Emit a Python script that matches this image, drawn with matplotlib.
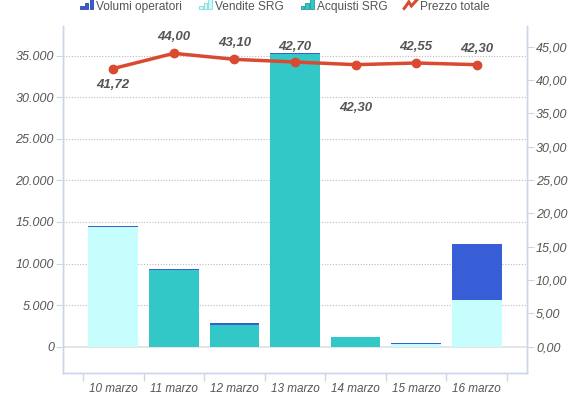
import numpy as np
import matplotlib
matplotlib.use('Agg')
import matplotlib.pyplot as plt
import matplotlib.patches as mpatches
import matplotlib.lines as mlines
from matplotlib.legend_handler import HandlerBase
from matplotlib.ticker import FuncFormatter, FixedLocator

plt.rcParams['font.family'] = ['Liberation Sans', 'DejaVu Sans']

# Data
giorni   = ['10 marzo', '11 marzo', '12 marzo', '13 marzo',
            '14 marzo', '15 marzo', '16 marzo']
vendite  = [14350, 0, 0, 0, 0, 270, 5600]
acquisti = [0, 9250, 2650, 35200, 1130, 0, 0]
volumi   = [200, 100, 150, 80, 70, 170, 6800]
prezzo   = [41.72, 44.00, 43.10, 42.70, 42.30, 42.55, 42.30]
# label offset in pixels (positive = above)
offs     = [-16, 16, 16, 15, -43, 16, 16]

c_vol  = '#375ed6'
c_vend = '#c6fdfd'
c_acq  = '#33c8c8'
c_line = '#d94a30'
c_text = '#555555'
c_axis = '#ccd6eb'


class BarIcon(HandlerBase):
    def __init__(self, color, edge):
        super().__init__()
        self.color = color
        self.edge = edge

    def create_artists(self, legend, orig, xd, yd, w, h, fs, trans):
        arts = []
        bw = w / 3.6
        for i, frac in enumerate([0.35, 0.65, 1.0]):
            r = mpatches.Rectangle((xd + i * bw * 1.3, yd), bw, h * frac,
                                   facecolor=self.color, edgecolor=self.edge,
                                   linewidth=0.6, transform=trans)
            arts.append(r)
        return arts


class LineIcon(HandlerBase):
    def create_artists(self, legend, orig, xd, yd, w, h, fs, trans):
        xs = xd + w * np.array([0.0, 0.35, 0.55, 1.0])
        ys = yd + h * np.array([0.1, 0.75, 0.35, 1.0])
        l = mlines.Line2D(xs, ys, color=c_line, linewidth=2.2,
                          solid_joinstyle='miter', transform=trans)
        return [l]


fig = plt.figure(figsize=(5.74, 4.0), dpi=100)
ax = fig.add_axes([63 / 574, 27 / 400, 464 / 574, 347 / 400])
ax2 = ax.twinx()

x = np.arange(len(giorni))
w = 0.82
v = np.array(vendite)
a = np.array(acquisti)
ax.bar(x, v, w, color=c_vend, zorder=2)
ax.bar(x, a, w, bottom=v, color=c_acq, zorder=2)
ax.bar(x, volumi, w, bottom=v + a, color=c_vol, zorder=2)

ax.set_xlim(-0.83, 6.83)
ax.set_ylim(-3160, 38550)
ax2.set_ylim(-3.95, 48.1)

ax.set_yticks(np.arange(0, 35001, 5000))
ax.yaxis.set_major_formatter(FuncFormatter(lambda v, p: '{:,.0f}'.format(v).replace(',', '.')))
ax2.set_yticks(np.arange(0, 45.01, 5))
ax2.yaxis.set_major_formatter(FuncFormatter(lambda v, p: '{:.2f}'.format(v).replace('.', ',')))

for yv in np.arange(5000, 35001, 5000):
    ax.axhline(yv, color='#bbbbbb', linestyle=(0, (1, 1.5)), linewidth=0.8, zorder=1)
ax.axhline(0, color='#e0e0e0', linewidth=1.2, zorder=1)

ax.set_xticks(x)
ax.set_xticklabels(giorni)
ax.xaxis.set_minor_locator(FixedLocator(np.arange(-0.5, 7, 1)))
ax.tick_params(axis='x', which='major', length=0, pad=7)
ax.tick_params(axis='x', which='minor', length=6, color=c_axis, width=1)
ax.tick_params(axis='y', length=5, color=c_axis, pad=1.5)
ax2.tick_params(axis='y', length=5, color=c_axis, pad=1.5)

for a_ in (ax, ax2):
    for lab in a_.get_xticklabels():
        lab.set_fontsize(8.5)
    for lab in a_.get_yticklabels():
        lab.set_fontsize(9)
    for lab in a_.get_xticklabels() + a_.get_yticklabels():
        lab.set_fontstyle('italic')
        lab.set_color(c_text)
    a_.spines['top'].set_visible(False)
    for s in ('left', 'right', 'bottom'):
        a_.spines[s].set_color(c_axis)
        a_.spines[s].set_linewidth(1)

ax2.plot(x, prezzo, color=c_line, linewidth=2.5, marker='o',
         markersize=6, zorder=5)
for xi, yi, o in zip(x, prezzo, offs):
    ax2.annotate('{:.2f}'.format(yi).replace('.', ','), (xi, yi),
                 xytext=(0, o * 0.72), textcoords='offset points',
                 ha='center', va='center', fontsize=9.5, fontweight='bold',
                 fontstyle='italic', color=c_text)

h_vol  = mpatches.Patch(label='Volumi operatori')
h_vend = mpatches.Patch(label='Vendite SRG')
h_acq  = mpatches.Patch(label='Acquisti SRG')
h_line = mlines.Line2D([], [], label='Prezzo totale')
leg = fig.legend(handles=[h_vol, h_vend, h_acq, h_line],
                 handler_map={h_vol: BarIcon(c_vol, '#2a45a8'),
                              h_vend: BarIcon(c_vend, '#8fd6d6'),
                              h_acq: BarIcon(c_acq, '#1f9999'),
                              h_line: LineIcon()},
                 loc='center', bbox_to_anchor=(0.4965, 0.982), ncol=4,
                 frameon=False, fontsize=8.6, handlelength=1.09, handleheight=0.9,
                 handletextpad=0.25, columnspacing=1.42, borderpad=0.2)
for t in leg.get_texts():
    t.set_color(c_text)

fig.savefig('out.png', dpi=100)
